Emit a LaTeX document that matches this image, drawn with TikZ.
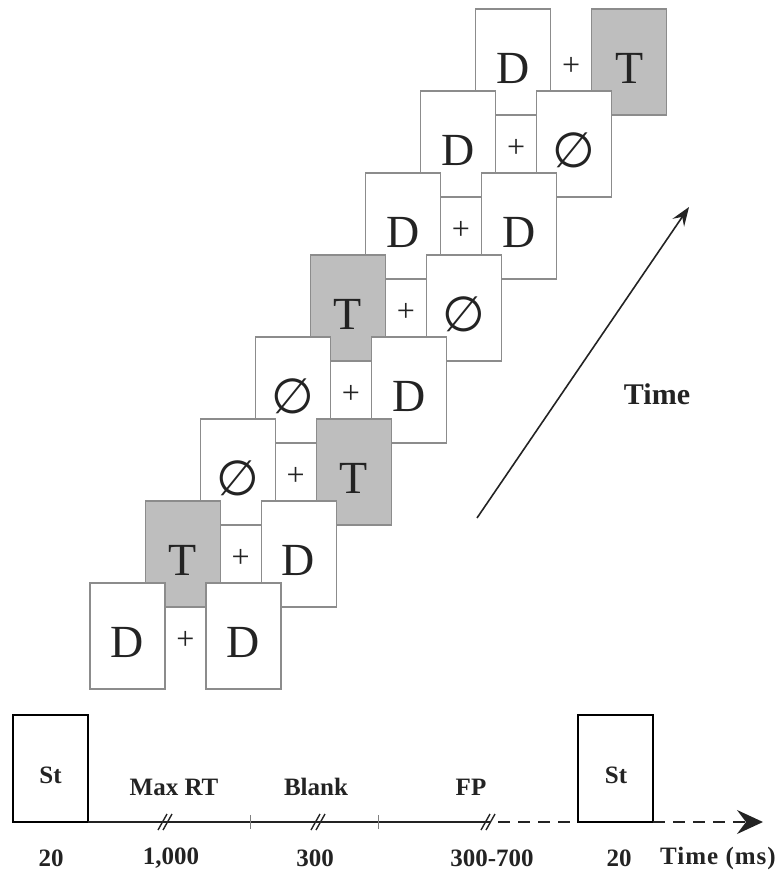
\documentclass[tikz,border=0pt]{standalone}
\usepackage{fontspec}
\setmainfont{Liberation Serif}
\newfontfamily\symfont{DejaVu Sans}
\usetikzlibrary{arrows.meta}
\definecolor{boxgray}{RGB}{190,190,190}
\definecolor{edgegray}{RGB}{140,140,140}
\definecolor{ink}{RGB}{35,35,35}
\newcommand\nul{{\symfont\fontsize{49}{49}\selectfont ∅}}
\tikzset{
  stim/.style={draw=edgegray, line width=1.1pt, fill=white, minimum width=75pt,
    minimum height=106pt, inner sep=0pt, outer sep=0pt, anchor=north west},
  target/.style={stim, fill=boxgray},
  letter/.style={font=\fontsize{46}{46}\selectfont, inner sep=0pt, text=ink},
  plus/.style={font=\fontsize{32}{32}\selectfont, inner sep=0pt, text=ink},
  stbox/.style={draw=black, line width=1.8pt, minimum width=75pt, minimum height=107pt,
    inner sep=0pt, outer sep=0pt, anchor=north west},
  lab/.style={font=\bfseries\fontsize{25}{25}\selectfont, inner sep=0pt, text=ink},
  axis/.style={line width=1.8pt, draw=ink},
  dashaxis/.style={axis, dash pattern=on 12pt off 8pt},
  brk/.style={line width=1.4pt, draw=ink},
  tickmark/.style={line width=0.8pt, draw=gray},
  timearrow/.style={line width=1.6pt, draw=ink, -{Stealth[length=19pt,width=14pt,inset=7pt]}},
}
\begin{document}
\begin{tikzpicture}[x=1pt,y=-1pt]
\useasboundingbox (0,0) rectangle (780,871);
% stacked displays, top first
\foreach \k/\lc/\ls/\rc/\rs in {7/D/stim/T/target,6/D/stim/\nul/stim,5/D/stim/D/stim,4/T/target/\nul/stim,3/\nul/stim/D/stim,2/\nul/stim/T/target,1/T/target/D/stim,0/D/stim/D/stim}{
  \pgfmathsetmacro\xo{90+55.1*\k}
  \pgfmathsetmacro\yo{583-82*\k}
  \node[\ls] (L\k) at (\xo,\yo) {};
  \node[\rs] (R\k) at (\xo+116,\yo) {};
  \node[letter] (lt\k) at ([yshift=-6pt]L\k.center) {\lc};
  \node[letter] (rt\k) at ([yshift=-6pt]R\k.center) {\rc};
  \node[plus] (p\k) at (\xo+95.5,\yo+57) {+};
}
% time arrow
\coordinate (ta) at (477,518);
\coordinate (tb) at (689,207);
\draw[timearrow] (ta) -- (tb);
\node[lab, font=\bfseries\fontsize{30}{30}\selectfont] (timelab) at (657,394) {Time};
% timeline
\node[stbox] (st1) at (13,715) {};
\node[stbox] (st2) at (578,715) {};
\node[lab] (stl1) at (50.5,775) {St};
\node[lab] (stl2) at (616,775) {St};
\coordinate (fpA) at (490,822);
\coordinate (fpB) at (498,822);
\coordinate (tip) at (763,822);
\draw[axis] (st1.south east) -- (fpA);
\draw[dashaxis] (fpB) -- (st2.south west);
\draw[dashaxis, -{Stealth[length=26pt,width=24pt,inset=9pt]}] (st2.south east) -- (tip);
\foreach \c/\n in {167/m1,320/m2,490/m3}{
  \coordinate (\n) at (\c,822);
  \draw[brk] ([shift={(-9,8)}]\n) -- ([shift={(0,-8)}]\n);
  \draw[brk] ([shift={(-4,8)}]\n) -- ([shift={(5,-8)}]\n);
}
\foreach \c/\n in {250/t1,378/t2}{
  \coordinate (\n) at (\c,822);
  \draw[tickmark] ([yshift=7pt]\n) -- ([yshift=-7pt]\n);
}
\node[lab] (mrt) at (174,787) {Max RT};
\node[lab] (blk) at (316,787) {Blank};
\node[lab] (fp) at (471,787) {FP};
\node[lab] (n1) at (51,858) {20};
\node[lab] (n2) at (171,858) {1,000};
\node[lab] (n3) at (315,858) {300};
\node[lab] (n4) at (492,858) {300-700};
\node[lab] (n5) at (619,858) {20};
\node[lab, font=\bfseries\fontsize{25}{25}\selectfont\addfontfeature{LetterSpace=4}] (n6) at (718,858) {Time (ms)};
\end{tikzpicture}
\end{document}
